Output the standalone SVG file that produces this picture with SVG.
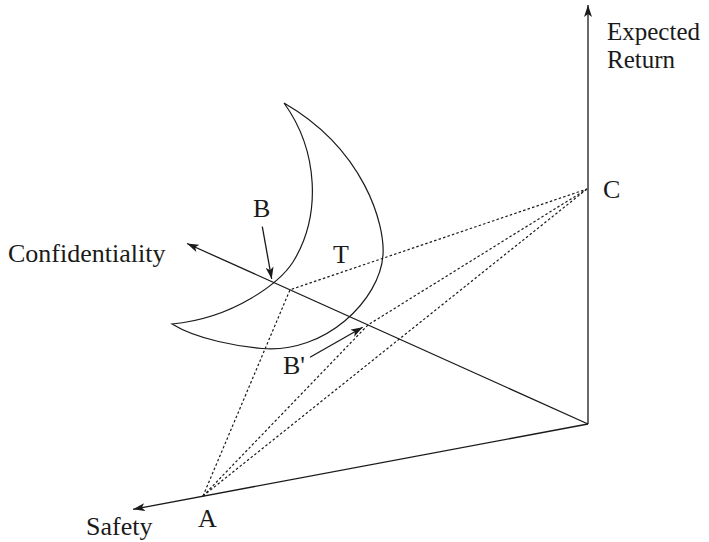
<svg xmlns="http://www.w3.org/2000/svg" width="709" height="542" viewBox="0 0 709 542">
<style>
.ax{fill:none;stroke:#1a1a1a;stroke-width:1.3}
.dot{fill:none;stroke:#1a1a1a;stroke-width:1.2;stroke-dasharray:2.5,2.2}
.cr{fill:none;stroke:#1a1a1a;stroke-width:1.2}
text{font-family:"Liberation Serif","Times New Roman",serif;font-size:26px;fill:#1a1a1a}
.er{font-size:25px}
</style>
<defs>
<marker id="ah" viewBox="0 0 12 8" refX="12" refY="4" markerWidth="12" markerHeight="8" orient="auto" markerUnits="userSpaceOnUse">
<path d="M12,4 L0,0 L3,4 L0,8 z" fill="#1a1a1a"/>
</marker>
</defs>
<rect width="709" height="542" fill="#fff"/>
<g id="axes">
<line id="axis-return" class="ax" x1="588" y1="424" x2="588" y2="5" marker-end="url(#ah)"/>
<line id="axis-confidentiality" class="ax" x1="588" y1="424" x2="187" y2="243.5" marker-end="url(#ah)"/>
<line id="axis-safety" class="ax" x1="588" y1="424" x2="133" y2="509.3" marker-end="url(#ah)"/>
</g>
<g id="crescent-T">
<path class="cr" d="M284,103 C318,150 322,215 293,262 C280,282 235,318 172,324 C198,340 240,346.6 262,348.5 C325,354 380,300 383,255 C385,225 365,150 284,103 Z"/>
</g>
<g id="connectors">
<polyline class="dot" points="203,496 290,289.8 587,189"/>
<polyline class="dot" points="203,496 368,324.9 587,189"/>
<line class="dot" x1="203" y1="496" x2="587" y2="189"/>
<line class="ax" x1="262.3" y1="226.7" x2="271.7" y2="279" marker-end="url(#ah)"/>
<line class="ax" x1="310" y1="357.3" x2="362.7" y2="327.3" marker-end="url(#ah)"/>
</g>
<g id="label-expected-return"><text class="er" x="607" y="40">Expected</text><text class="er" x="607" y="68">Return</text></g>
<g id="node-C"><text x="603" y="198">C</text></g>
<g id="node-B"><text x="253" y="217">B</text></g>
<g id="node-T"><text x="333" y="263">T</text></g>
<g id="node-Bprime"><text x="283" y="374">B'</text></g>
<g id="node-A"><text x="198" y="527">A</text></g>
<g id="label-confidentiality"><text x="8" y="261.5">Confidentiality</text></g>
<g id="label-safety"><text x="86" y="535">Safety</text></g>
</svg>
